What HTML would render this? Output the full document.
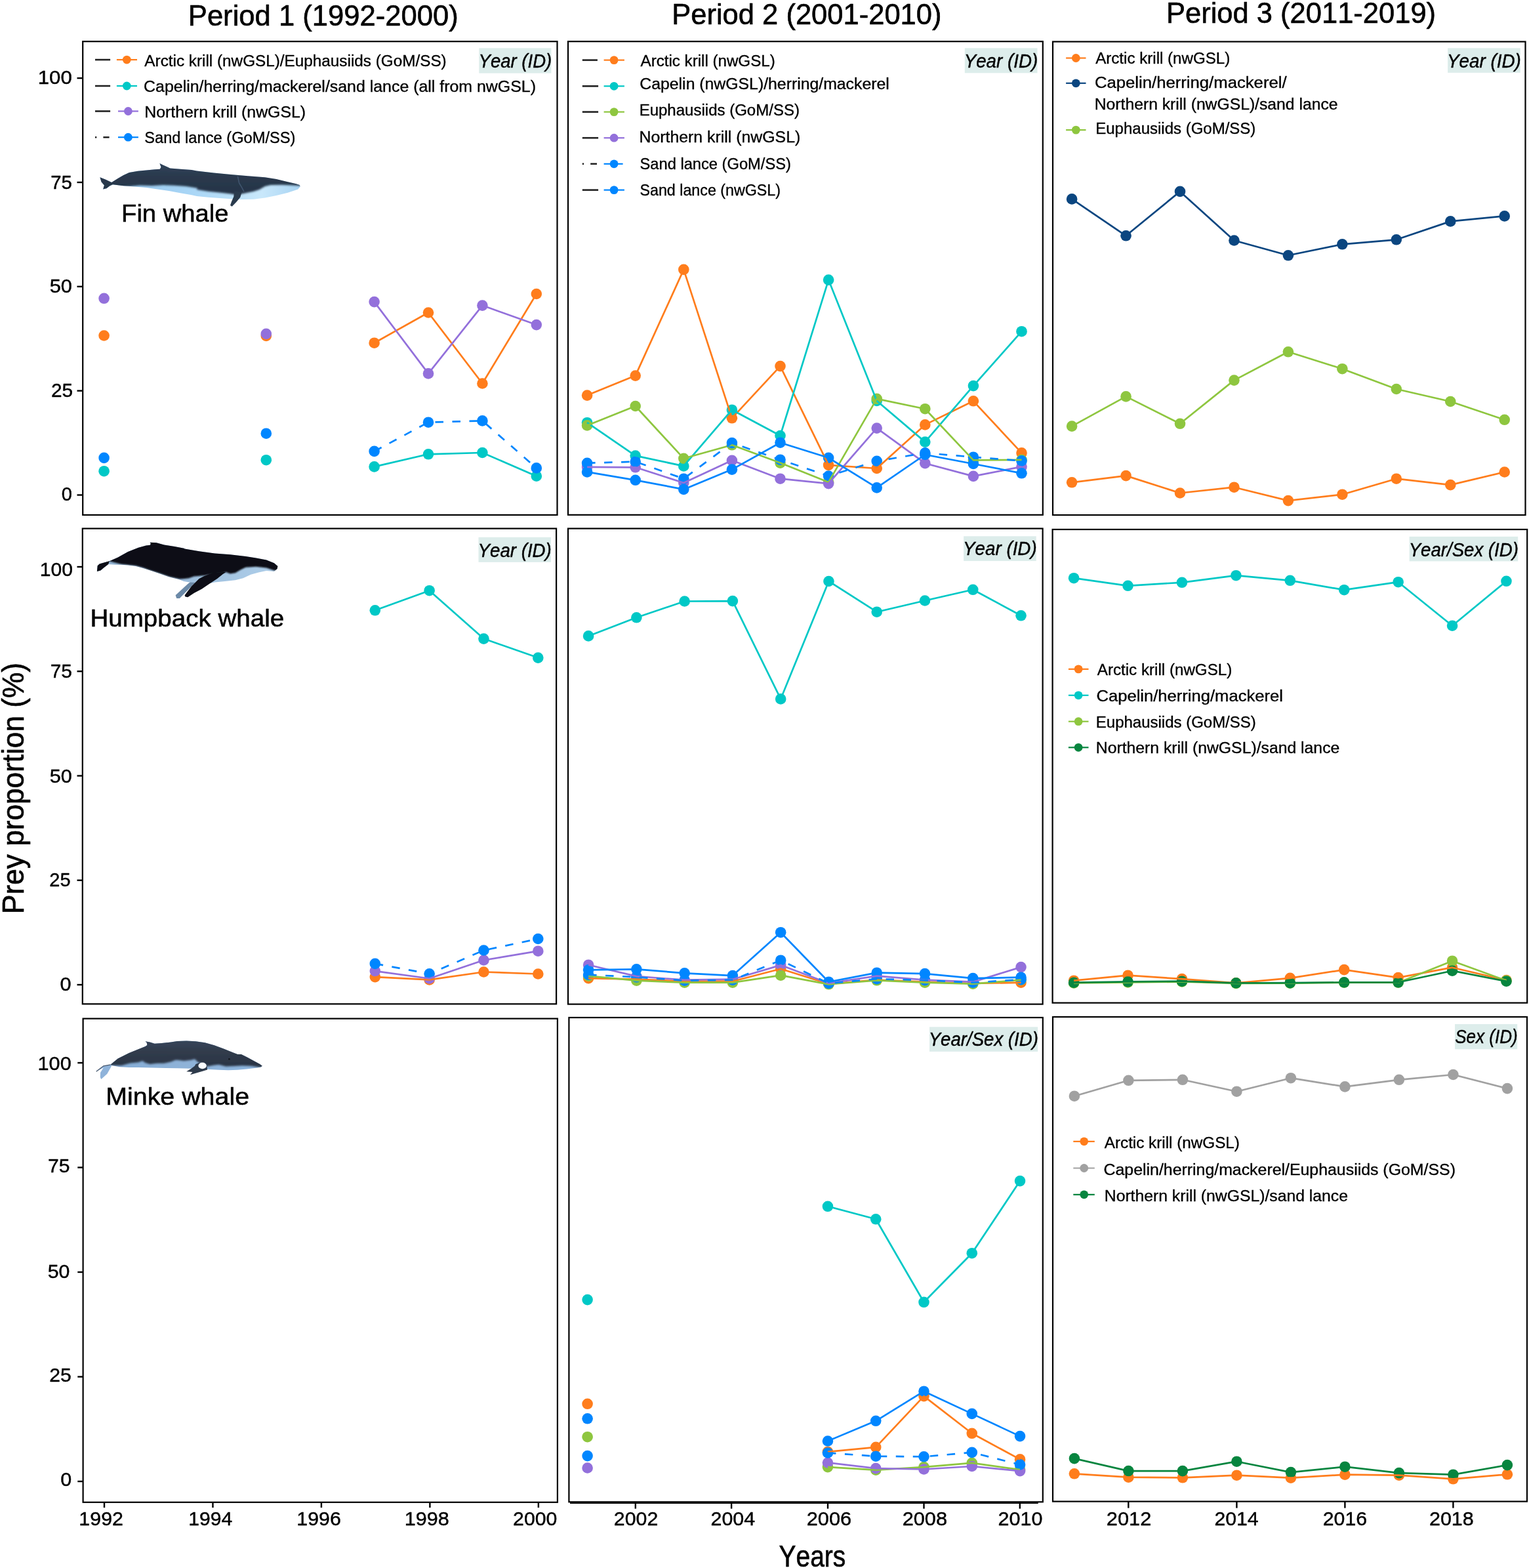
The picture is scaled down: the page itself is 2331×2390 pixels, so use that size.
<!DOCTYPE html>
<html lang="en">
<head>
<meta charset="utf-8">
<title>Prey proportion by period</title>
<style>html,body{margin:0;padding:0;background:#fff}body{width:2331px;height:2390px;overflow:hidden}svg{display:block}</style>
</head>
<body>
<svg width="2331" height="2390" viewBox="0 0 2331 2390" font-family="'Liberation Sans', sans-serif" fill="#000">
<style>text{stroke:#000;stroke-linejoin:round;font-kerning:none}</style>
<rect width="2331" height="2390" fill="#fff"/>
<g>
<g fill="#FF7D1C"><circle cx="158.6" cy="511.5" r="8.3"/><circle cx="405.8" cy="511.9" r="8.3"/><circle cx="570.6" cy="522.7" r="8.3"/><circle cx="653" cy="476.5" r="8.3"/><circle cx="735.4" cy="584.5" r="8.3"/><circle cx="817.8" cy="448" r="8.3"/></g>
<g fill="#00C8C6"><circle cx="158.6" cy="718.2" r="8.3"/><circle cx="405.8" cy="701.2" r="8.3"/><circle cx="570.6" cy="711.4" r="8.3"/><circle cx="653" cy="692.3" r="8.3"/><circle cx="735.4" cy="690" r="8.3"/><circle cx="817.8" cy="725.7" r="8.3"/></g>
<g fill="#9370DB"><circle cx="158.6" cy="454.8" r="8.3"/><circle cx="405.8" cy="508.9" r="8.3"/><circle cx="570.6" cy="460.1" r="8.3"/><circle cx="653" cy="569.4" r="8.3"/><circle cx="735.4" cy="465.6" r="8.3"/><circle cx="817.8" cy="495.1" r="8.3"/></g>
<g fill="#0086FF"><circle cx="158.6" cy="697.9" r="8.3"/><circle cx="405.8" cy="660.7" r="8.3"/><circle cx="570.6" cy="687.9" r="8.3"/><circle cx="653" cy="643.7" r="8.3"/><circle cx="735.4" cy="641.4" r="8.3"/><circle cx="817.8" cy="713.4" r="8.3"/></g>
</g>
<g fill="none" stroke-width="2.7" stroke-linejoin="round">
<path d="M570.6 522.7 L653 476.5 L735.4 584.5 L817.8 448" stroke="#FF7D1C"/>
<path d="M570.6 711.4 L653 692.3 L735.4 690 L817.8 725.7" stroke="#00C8C6"/>
<path d="M570.6 460.1 L653 569.4 L735.4 465.6 L817.8 495.1" stroke="#9370DB"/>
<path d="M570.6 687.9 L653 643.7 L735.4 641.4 L817.8 713.4" stroke="#0086FF" stroke-dasharray="12.5 13.5"/>
</g>
<g>
<g fill="#FF7D1C"><circle cx="895.1" cy="602.6" r="8.3"/><circle cx="968.7" cy="572.6" r="8.3"/><circle cx="1042.3" cy="410.9" r="8.3"/><circle cx="1115.9" cy="637.3" r="8.3"/><circle cx="1189.5" cy="558.1" r="8.3"/><circle cx="1263.1" cy="708.9" r="8.3"/><circle cx="1336.7" cy="714" r="8.3"/><circle cx="1410.3" cy="647.4" r="8.3"/><circle cx="1483.9" cy="611.3" r="8.3"/><circle cx="1557.5" cy="690.4" r="8.3"/></g>
<g fill="#00C8C6"><circle cx="895.1" cy="644.2" r="8.3"/><circle cx="968.7" cy="694.6" r="8.3"/><circle cx="1042.3" cy="710.4" r="8.3"/><circle cx="1115.9" cy="624.7" r="8.3"/><circle cx="1189.5" cy="664" r="8.3"/><circle cx="1263.1" cy="426.6" r="8.3"/><circle cx="1336.7" cy="611" r="8.3"/><circle cx="1410.3" cy="673.6" r="8.3"/><circle cx="1483.9" cy="588.1" r="8.3"/><circle cx="1557.5" cy="505.2" r="8.3"/></g>
<g fill="#8EC63F"><circle cx="895.1" cy="648.4" r="8.3"/><circle cx="968.7" cy="619" r="8.3"/><circle cx="1042.3" cy="698.8" r="8.3"/><circle cx="1115.9" cy="678.3" r="8.3"/><circle cx="1189.5" cy="705.6" r="8.3"/><circle cx="1263.1" cy="735" r="8.3"/><circle cx="1336.7" cy="607.9" r="8.3"/><circle cx="1410.3" cy="623.2" r="8.3"/><circle cx="1483.9" cy="701.4" r="8.3"/><circle cx="1557.5" cy="700.9" r="8.3"/></g>
<g fill="#9370DB"><circle cx="895.1" cy="711.9" r="8.3"/><circle cx="968.7" cy="712.3" r="8.3"/><circle cx="1042.3" cy="736" r="8.3"/><circle cx="1115.9" cy="701.8" r="8.3"/><circle cx="1189.5" cy="729.7" r="8.3"/><circle cx="1263.1" cy="737.1" r="8.3"/><circle cx="1336.7" cy="652.6" r="8.3"/><circle cx="1410.3" cy="706.2" r="8.3"/><circle cx="1483.9" cy="725.9" r="8.3"/><circle cx="1557.5" cy="711.4" r="8.3"/></g>
<g fill="#0086FF"><circle cx="895.1" cy="705.8" r="8.3"/><circle cx="968.7" cy="703.7" r="8.3"/><circle cx="1042.3" cy="729.7" r="8.3"/><circle cx="1115.9" cy="675.1" r="8.3"/><circle cx="1189.5" cy="700.7" r="8.3"/><circle cx="1263.1" cy="725.5" r="8.3"/><circle cx="1336.7" cy="702.8" r="8.3"/><circle cx="1410.3" cy="690.4" r="8.3"/><circle cx="1483.9" cy="696.7" r="8.3"/><circle cx="1557.5" cy="702.4" r="8.3"/></g>
<g fill="#0086FF"><circle cx="895.1" cy="719.4" r="8.3"/><circle cx="968.7" cy="731.8" r="8.3"/><circle cx="1042.3" cy="745.9" r="8.3"/><circle cx="1115.9" cy="715.6" r="8.3"/><circle cx="1189.5" cy="674.7" r="8.3"/><circle cx="1263.1" cy="697.8" r="8.3"/><circle cx="1336.7" cy="743.4" r="8.3"/><circle cx="1410.3" cy="693" r="8.3"/><circle cx="1483.9" cy="707" r="8.3"/><circle cx="1557.5" cy="721.3" r="8.3"/></g>
</g>
<g fill="none" stroke-width="2.7" stroke-linejoin="round">
<path d="M895.1 602.6 L968.7 572.6 L1042.3 410.9 L1115.9 637.3 L1189.5 558.1 L1263.1 708.9 L1336.7 714 L1410.3 647.4 L1483.9 611.3 L1557.5 690.4" stroke="#FF7D1C"/>
<path d="M895.1 644.2 L968.7 694.6 L1042.3 710.4 L1115.9 624.7 L1189.5 664 L1263.1 426.6 L1336.7 611 L1410.3 673.6 L1483.9 588.1 L1557.5 505.2" stroke="#00C8C6"/>
<path d="M895.1 648.4 L968.7 619 L1042.3 698.8 L1115.9 678.3 L1189.5 705.6 L1263.1 735 L1336.7 607.9 L1410.3 623.2 L1483.9 701.4 L1557.5 700.9" stroke="#8EC63F"/>
<path d="M895.1 711.9 L968.7 712.3 L1042.3 736 L1115.9 701.8 L1189.5 729.7 L1263.1 737.1 L1336.7 652.6 L1410.3 706.2 L1483.9 725.9 L1557.5 711.4" stroke="#9370DB"/>
<path d="M895.1 705.8 L968.7 703.7 L1042.3 729.7 L1115.9 675.1 L1189.5 700.7 L1263.1 725.5 L1336.7 702.8 L1410.3 690.4 L1483.9 696.7 L1557.5 702.4" stroke="#0086FF" stroke-dasharray="12.5 13.5"/>
<path d="M895.1 719.4 L968.7 731.8 L1042.3 745.9 L1115.9 715.6 L1189.5 674.7 L1263.1 697.8 L1336.7 743.4 L1410.3 693 L1483.9 707 L1557.5 721.3" stroke="#0086FF"/>
</g>
<g>
<g fill="#FF7D1C"><circle cx="1634.1" cy="735.3" r="8.3"/><circle cx="1716.55" cy="725.1" r="8.3"/><circle cx="1799" cy="751.5" r="8.3"/><circle cx="1881.45" cy="742.7" r="8.3"/><circle cx="1963.9" cy="763.1" r="8.3"/><circle cx="2046.35" cy="753.7" r="8.3"/><circle cx="2128.8" cy="729.7" r="8.3"/><circle cx="2211.25" cy="739.1" r="8.3"/><circle cx="2293.7" cy="719.5" r="8.3"/></g>
<g fill="#0B4680"><circle cx="1634.1" cy="303.4" r="8.3"/><circle cx="1716.55" cy="359.3" r="8.3"/><circle cx="1799" cy="291.9" r="8.3"/><circle cx="1881.45" cy="366.5" r="8.3"/><circle cx="1963.9" cy="389.3" r="8.3"/><circle cx="2046.35" cy="372.3" r="8.3"/><circle cx="2128.8" cy="365.3" r="8.3"/><circle cx="2211.25" cy="337.4" r="8.3"/><circle cx="2293.7" cy="329.4" r="8.3"/></g>
<g fill="#8EC63F"><circle cx="1634.1" cy="649.6" r="8.3"/><circle cx="1716.55" cy="604.4" r="8.3"/><circle cx="1799" cy="645.8" r="8.3"/><circle cx="1881.45" cy="579.6" r="8.3"/><circle cx="1963.9" cy="536.3" r="8.3"/><circle cx="2046.35" cy="562.2" r="8.3"/><circle cx="2128.8" cy="593" r="8.3"/><circle cx="2211.25" cy="612" r="8.3"/><circle cx="2293.7" cy="639.8" r="8.3"/></g>
</g>
<g fill="none" stroke-width="2.7" stroke-linejoin="round">
<path d="M1634.1 735.3 L1716.55 725.1 L1799 751.5 L1881.45 742.7 L1963.9 763.1 L2046.35 753.7 L2128.8 729.7 L2211.25 739.1 L2293.7 719.5" stroke="#FF7D1C"/>
<path d="M1634.1 303.4 L1716.55 359.3 L1799 291.9 L1881.45 366.5 L1963.9 389.3 L2046.35 372.3 L2128.8 365.3 L2211.25 337.4 L2293.7 329.4" stroke="#0B4680"/>
<path d="M1634.1 649.6 L1716.55 604.4 L1799 645.8 L1881.45 579.6 L1963.9 536.3 L2046.35 562.2 L2128.8 593 L2211.25 612 L2293.7 639.8" stroke="#8EC63F"/>
</g>
<g>
<g fill="#FF7D1C"><circle cx="571.8" cy="1489.1" r="8.3"/><circle cx="654.63" cy="1493.4" r="8.3"/><circle cx="737.46" cy="1481.5" r="8.3"/><circle cx="820.29" cy="1484.5" r="8.3"/></g>
<g fill="#00C8C6"><circle cx="571.8" cy="930.3" r="8.3"/><circle cx="654.63" cy="900.2" r="8.3"/><circle cx="737.46" cy="973.6" r="8.3"/><circle cx="820.29" cy="1002.6" r="8.3"/></g>
<g fill="#9370DB"><circle cx="571.8" cy="1480.1" r="8.3"/><circle cx="654.63" cy="1491.5" r="8.3"/><circle cx="737.46" cy="1463.5" r="8.3"/><circle cx="820.29" cy="1449.7" r="8.3"/></g>
<g fill="#0086FF"><circle cx="571.8" cy="1468.9" r="8.3"/><circle cx="654.63" cy="1484.3" r="8.3"/><circle cx="737.46" cy="1448.5" r="8.3"/><circle cx="820.29" cy="1431" r="8.3"/></g>
</g>
<g fill="none" stroke-width="2.7" stroke-linejoin="round">
<path d="M571.8 1489.1 L654.63 1493.4 L737.46 1481.5 L820.29 1484.5" stroke="#FF7D1C"/>
<path d="M571.8 930.3 L654.63 900.2 L737.46 973.6 L820.29 1002.6" stroke="#00C8C6"/>
<path d="M571.8 1480.1 L654.63 1491.5 L737.46 1463.5 L820.29 1449.7" stroke="#9370DB"/>
<path d="M571.8 1468.9 L654.63 1484.3 L737.46 1448.5 L820.29 1431" stroke="#0086FF" stroke-dasharray="12.5 13.5"/>
</g>
<g>
<g fill="#FF7D1C"><circle cx="897.1" cy="1491.1" r="8.3"/><circle cx="970.37" cy="1492.7" r="8.3"/><circle cx="1043.64" cy="1495.7" r="8.3"/><circle cx="1116.91" cy="1495.7" r="8.3"/><circle cx="1190.18" cy="1476.7" r="8.3"/><circle cx="1263.45" cy="1499.7" r="8.3"/><circle cx="1336.72" cy="1493.7" r="8.3"/><circle cx="1409.99" cy="1496.7" r="8.3"/><circle cx="1483.26" cy="1499" r="8.3"/><circle cx="1556.53" cy="1497.7" r="8.3"/></g>
<g fill="#00C8C6"><circle cx="897.1" cy="969.4" r="8.3"/><circle cx="970.37" cy="941.3" r="8.3"/><circle cx="1043.64" cy="916.5" r="8.3"/><circle cx="1116.91" cy="916.1" r="8.3"/><circle cx="1190.18" cy="1065.4" r="8.3"/><circle cx="1263.45" cy="886" r="8.3"/><circle cx="1336.72" cy="932.7" r="8.3"/><circle cx="1409.99" cy="915.5" r="8.3"/><circle cx="1483.26" cy="898.8" r="8.3"/><circle cx="1556.53" cy="938.3" r="8.3"/></g>
<g fill="#8EC63F"><circle cx="897.1" cy="1487.7" r="8.3"/><circle cx="970.37" cy="1494.7" r="8.3"/><circle cx="1043.64" cy="1497.7" r="8.3"/><circle cx="1116.91" cy="1497.7" r="8.3"/><circle cx="1190.18" cy="1486.7" r="8.3"/><circle cx="1263.45" cy="1500.3" r="8.3"/><circle cx="1336.72" cy="1494.3" r="8.3"/><circle cx="1409.99" cy="1497.7" r="8.3"/><circle cx="1483.26" cy="1499.7" r="8.3"/><circle cx="1556.53" cy="1493.7" r="8.3"/></g>
<g fill="#9370DB"><circle cx="897.1" cy="1470.7" r="8.3"/><circle cx="970.37" cy="1488.1" r="8.3"/><circle cx="1043.64" cy="1493.7" r="8.3"/><circle cx="1116.91" cy="1492.7" r="8.3"/><circle cx="1190.18" cy="1471.1" r="8.3"/><circle cx="1263.45" cy="1498.7" r="8.3"/><circle cx="1336.72" cy="1487.7" r="8.3"/><circle cx="1409.99" cy="1493.7" r="8.3"/><circle cx="1483.26" cy="1496.7" r="8.3"/><circle cx="1556.53" cy="1474.1" r="8.3"/></g>
<g fill="#0086FF"><circle cx="897.1" cy="1485.7" r="8.3"/><circle cx="970.37" cy="1489.3" r="8.3"/><circle cx="1043.64" cy="1494.7" r="8.3"/><circle cx="1116.91" cy="1493.7" r="8.3"/><circle cx="1190.18" cy="1463.7" r="8.3"/><circle cx="1263.45" cy="1499" r="8.3"/><circle cx="1336.72" cy="1492.1" r="8.3"/><circle cx="1409.99" cy="1494.1" r="8.3"/><circle cx="1483.26" cy="1497.7" r="8.3"/><circle cx="1556.53" cy="1493.1" r="8.3"/></g>
<g fill="#0086FF"><circle cx="897.1" cy="1478.3" r="8.3"/><circle cx="970.37" cy="1477.3" r="8.3"/><circle cx="1043.64" cy="1483.3" r="8.3"/><circle cx="1116.91" cy="1487.1" r="8.3"/><circle cx="1190.18" cy="1421.2" r="8.3"/><circle cx="1263.45" cy="1496.7" r="8.3"/><circle cx="1336.72" cy="1482.7" r="8.3"/><circle cx="1409.99" cy="1484.1" r="8.3"/><circle cx="1483.26" cy="1491.1" r="8.3"/><circle cx="1556.53" cy="1489.7" r="8.3"/></g>
</g>
<g fill="none" stroke-width="2.7" stroke-linejoin="round">
<path d="M897.1 1491.1 L970.37 1492.7 L1043.64 1495.7 L1116.91 1495.7 L1190.18 1476.7 L1263.45 1499.7 L1336.72 1493.7 L1409.99 1496.7 L1483.26 1499 L1556.53 1497.7" stroke="#FF7D1C"/>
<path d="M897.1 969.4 L970.37 941.3 L1043.64 916.5 L1116.91 916.1 L1190.18 1065.4 L1263.45 886 L1336.72 932.7 L1409.99 915.5 L1483.26 898.8 L1556.53 938.3" stroke="#00C8C6"/>
<path d="M897.1 1487.7 L970.37 1494.7 L1043.64 1497.7 L1116.91 1497.7 L1190.18 1486.7 L1263.45 1500.3 L1336.72 1494.3 L1409.99 1497.7 L1483.26 1499.7 L1556.53 1493.7" stroke="#8EC63F"/>
<path d="M897.1 1470.7 L970.37 1488.1 L1043.64 1493.7 L1116.91 1492.7 L1190.18 1471.1 L1263.45 1498.7 L1336.72 1487.7 L1409.99 1493.7 L1483.26 1496.7 L1556.53 1474.1" stroke="#9370DB"/>
<path d="M897.1 1485.7 L970.37 1489.3 L1043.64 1494.7 L1116.91 1493.7 L1190.18 1463.7 L1263.45 1499 L1336.72 1492.1 L1409.99 1494.1 L1483.26 1497.7 L1556.53 1493.1" stroke="#0086FF" stroke-dasharray="12.5 13.5"/>
<path d="M897.1 1478.3 L970.37 1477.3 L1043.64 1483.3 L1116.91 1487.1 L1190.18 1421.2 L1263.45 1496.7 L1336.72 1482.7 L1409.99 1484.1 L1483.26 1491.1 L1556.53 1489.7" stroke="#0086FF"/>
</g>
<g>
<g fill="#FF7D1C"><circle cx="1637.1" cy="1494.7" r="8.3"/><circle cx="1719.52" cy="1486.7" r="8.3"/><circle cx="1801.94" cy="1492.1" r="8.3"/><circle cx="1884.36" cy="1498.3" r="8.3"/><circle cx="1966.78" cy="1490.9" r="8.3"/><circle cx="2049.2" cy="1478.1" r="8.3"/><circle cx="2131.62" cy="1490.1" r="8.3"/><circle cx="2214.04" cy="1474.7" r="8.3"/><circle cx="2296.46" cy="1494.1" r="8.3"/></g>
<g fill="#00C8C6"><circle cx="1637.1" cy="881.2" r="8.3"/><circle cx="1719.52" cy="892.8" r="8.3"/><circle cx="1801.94" cy="887.8" r="8.3"/><circle cx="1884.36" cy="877.2" r="8.3"/><circle cx="1966.78" cy="884.8" r="8.3"/><circle cx="2049.2" cy="899.2" r="8.3"/><circle cx="2131.62" cy="887.2" r="8.3"/><circle cx="2214.04" cy="953.7" r="8.3"/><circle cx="2296.46" cy="885.8" r="8.3"/></g>
<g fill="#8EC63F"><circle cx="1637.1" cy="1498.5" r="8.3"/><circle cx="1719.52" cy="1497.5" r="8.3"/><circle cx="1801.94" cy="1496.5" r="8.3"/><circle cx="1884.36" cy="1499" r="8.3"/><circle cx="1966.78" cy="1498.7" r="8.3"/><circle cx="2049.2" cy="1497.7" r="8.3"/><circle cx="2131.62" cy="1497.7" r="8.3"/><circle cx="2214.04" cy="1464.7" r="8.3"/><circle cx="2296.46" cy="1494.7" r="8.3"/></g>
<g fill="#07853F"><circle cx="1637.1" cy="1497.7" r="8.3"/><circle cx="1719.52" cy="1496.3" r="8.3"/><circle cx="1801.94" cy="1495.7" r="8.3"/><circle cx="1884.36" cy="1498.3" r="8.3"/><circle cx="1966.78" cy="1498.2" r="8.3"/><circle cx="2049.2" cy="1497.3" r="8.3"/><circle cx="2131.62" cy="1497.3" r="8.3"/><circle cx="2214.04" cy="1479.7" r="8.3"/><circle cx="2296.46" cy="1495.7" r="8.3"/></g>
</g>
<g fill="none" stroke-width="2.7" stroke-linejoin="round">
<path d="M1637.1 1494.7 L1719.52 1486.7 L1801.94 1492.1 L1884.36 1498.3 L1966.78 1490.9 L2049.2 1478.1 L2131.62 1490.1 L2214.04 1474.7 L2296.46 1494.1" stroke="#FF7D1C"/>
<path d="M1637.1 881.2 L1719.52 892.8 L1801.94 887.8 L1884.36 877.2 L1966.78 884.8 L2049.2 899.2 L2131.62 887.2 L2214.04 953.7 L2296.46 885.8" stroke="#00C8C6"/>
<path d="M1637.1 1498.5 L1719.52 1497.5 L1801.94 1496.5 L1884.36 1499 L1966.78 1498.7 L2049.2 1497.7 L2131.62 1497.7 L2214.04 1464.7 L2296.46 1494.7" stroke="#8EC63F"/>
<path d="M1637.1 1497.7 L1719.52 1496.3 L1801.94 1495.7 L1884.36 1498.3 L1966.78 1498.2 L2049.2 1497.3 L2131.62 1497.3 L2214.04 1479.7 L2296.46 1495.7" stroke="#07853F"/>
</g>
<g>
<g fill="#FF7D1C"><circle cx="895.6" cy="2139.8" r="8.3"/><circle cx="1261.95" cy="2212.9" r="8.3"/><circle cx="1335.22" cy="2205.9" r="8.3"/><circle cx="1408.49" cy="2128.1" r="8.3"/><circle cx="1481.76" cy="2184.8" r="8.3"/><circle cx="1555.03" cy="2224.4" r="8.3"/></g>
<g fill="#00C8C6"><circle cx="895.6" cy="1981.1" r="8.3"/><circle cx="1261.95" cy="1838.8" r="8.3"/><circle cx="1335.22" cy="1858.3" r="8.3"/><circle cx="1408.49" cy="1984.8" r="8.3"/><circle cx="1481.76" cy="1910.2" r="8.3"/><circle cx="1555.03" cy="1800.1" r="8.3"/></g>
<g fill="#8EC63F"><circle cx="895.6" cy="2190.2" r="8.3"/><circle cx="1261.95" cy="2236.1" r="8.3"/><circle cx="1335.22" cy="2240.6" r="8.3"/><circle cx="1408.49" cy="2236.1" r="8.3"/><circle cx="1481.76" cy="2229.9" r="8.3"/><circle cx="1555.03" cy="2240.2" r="8.3"/></g>
<g fill="#9370DB"><circle cx="895.6" cy="2237.5" r="8.3"/><circle cx="1261.95" cy="2229.5" r="8.3"/><circle cx="1335.22" cy="2238.1" r="8.3"/><circle cx="1408.49" cy="2239.5" r="8.3"/><circle cx="1481.76" cy="2235" r="8.3"/><circle cx="1555.03" cy="2242.2" r="8.3"/></g>
<g fill="#0086FF"><circle cx="895.6" cy="2219.1" r="8.3"/><circle cx="1261.95" cy="2214.5" r="8.3"/><circle cx="1335.22" cy="2219.7" r="8.3"/><circle cx="1408.49" cy="2220.3" r="8.3"/><circle cx="1481.76" cy="2213.9" r="8.3"/><circle cx="1555.03" cy="2232.4" r="8.3"/></g>
<g fill="#0086FF"><circle cx="895.6" cy="2162.3" r="8.3"/><circle cx="1261.95" cy="2196.5" r="8.3"/><circle cx="1335.22" cy="2165.8" r="8.3"/><circle cx="1408.49" cy="2120.7" r="8.3"/><circle cx="1481.76" cy="2154.9" r="8.3"/><circle cx="1555.03" cy="2189.1" r="8.3"/></g>
</g>
<g fill="none" stroke-width="2.7" stroke-linejoin="round">
<path d="M1261.95 2212.9 L1335.22 2205.9 L1408.49 2128.1 L1481.76 2184.8 L1555.03 2224.4" stroke="#FF7D1C"/>
<path d="M1261.95 1838.8 L1335.22 1858.3 L1408.49 1984.8 L1481.76 1910.2 L1555.03 1800.1" stroke="#00C8C6"/>
<path d="M1261.95 2236.1 L1335.22 2240.6 L1408.49 2236.1 L1481.76 2229.9 L1555.03 2240.2" stroke="#8EC63F"/>
<path d="M1261.95 2229.5 L1335.22 2238.1 L1408.49 2239.5 L1481.76 2235 L1555.03 2242.2" stroke="#9370DB"/>
<path d="M1261.95 2214.5 L1335.22 2219.7 L1408.49 2220.3 L1481.76 2213.9 L1555.03 2232.4" stroke="#0086FF" stroke-dasharray="12.5 13.5"/>
<path d="M1261.95 2196.5 L1335.22 2165.8 L1408.49 2120.7 L1481.76 2154.9 L1555.03 2189.1" stroke="#0086FF"/>
</g>
<g>
<g fill="#FF7D1C"><circle cx="1637.9" cy="2246.3" r="8.3"/><circle cx="1720.4" cy="2251.7" r="8.3"/><circle cx="1802.9" cy="2252.3" r="8.3"/><circle cx="1885.4" cy="2248.7" r="8.3"/><circle cx="1967.9" cy="2252.7" r="8.3"/><circle cx="2050.4" cy="2247.7" r="8.3"/><circle cx="2132.9" cy="2248.7" r="8.3"/><circle cx="2215.4" cy="2254.3" r="8.3"/><circle cx="2297.9" cy="2247.3" r="8.3"/></g>
<g fill="#A1A1A1"><circle cx="1637.9" cy="1670.7" r="8.3"/><circle cx="1720.4" cy="1646.8" r="8.3"/><circle cx="1802.9" cy="1645.8" r="8.3"/><circle cx="1885.4" cy="1663.7" r="8.3"/><circle cx="1967.9" cy="1643.2" r="8.3"/><circle cx="2050.4" cy="1656.4" r="8.3"/><circle cx="2132.9" cy="1645.8" r="8.3"/><circle cx="2215.4" cy="1638" r="8.3"/><circle cx="2297.9" cy="1659.1" r="8.3"/></g>
<g fill="#07853F"><circle cx="1637.9" cy="2223.1" r="8.3"/><circle cx="1720.4" cy="2242.1" r="8.3"/><circle cx="1802.9" cy="2242.1" r="8.3"/><circle cx="1885.4" cy="2227.7" r="8.3"/><circle cx="1967.9" cy="2244.1" r="8.3"/><circle cx="2050.4" cy="2235.7" r="8.3"/><circle cx="2132.9" cy="2245.1" r="8.3"/><circle cx="2215.4" cy="2247.7" r="8.3"/><circle cx="2297.9" cy="2233.1" r="8.3"/></g>
</g>
<g fill="none" stroke-width="2.7" stroke-linejoin="round">
<path d="M1637.9 2246.3 L1720.4 2251.7 L1802.9 2252.3 L1885.4 2248.7 L1967.9 2252.7 L2050.4 2247.7 L2132.9 2248.7 L2215.4 2254.3 L2297.9 2247.3" stroke="#FF7D1C"/>
<path d="M1637.9 1670.7 L1720.4 1646.8 L1802.9 1645.8 L1885.4 1663.7 L1967.9 1643.2 L2050.4 1656.4 L2132.9 1645.8 L2215.4 1638 L2297.9 1659.1" stroke="#A1A1A1"/>
<path d="M1637.9 2223.1 L1720.4 2242.1 L1802.9 2242.1 L1885.4 2227.7 L1967.9 2244.1 L2050.4 2235.7 L2132.9 2245.1 L2215.4 2247.7 L2297.9 2233.1" stroke="#07853F"/>
</g>
<g fill="none" stroke="#000" stroke-width="2.2">
<rect x="126.2" y="63.2" width="723.3" height="721.7"/>
<rect x="866" y="63.2" width="723.8" height="721.6"/>
<rect x="1605" y="63.5" width="720.5" height="721.5"/>
<rect x="125.8" y="805.6" width="722.3" height="724.7"/>
<rect x="866" y="805.6" width="723.6" height="725"/>
<rect x="1604.6" y="807" width="723.6" height="721.6"/>
<rect x="126.6" y="1552.6" width="723.3" height="737.2"/>
<rect x="867.4" y="1551" width="722.4" height="738.3"/>
<rect x="1605" y="1550" width="723" height="738.6"/>
</g>
<path d="M869 2290.8H1582.7" stroke="#000" stroke-width="2.6" fill="none"/>
<g stroke="#000" stroke-width="2.4">
<line x1="117.5" y1="754.5" x2="126.2" y2="754.5"/>
<line x1="117.5" y1="595.65" x2="126.2" y2="595.65"/>
<line x1="117.5" y1="436.8" x2="126.2" y2="436.8"/>
<line x1="117.5" y1="277.95" x2="126.2" y2="277.95"/>
<line x1="117.5" y1="119.1" x2="126.2" y2="119.1"/>
<line x1="117.5" y1="1501" x2="126.2" y2="1501"/>
<line x1="117.5" y1="1341.75" x2="126.2" y2="1341.75"/>
<line x1="117.5" y1="1182.5" x2="126.2" y2="1182.5"/>
<line x1="117.5" y1="1023.25" x2="126.2" y2="1023.25"/>
<line x1="117.5" y1="864" x2="126.2" y2="864"/>
<line x1="118.3" y1="2258" x2="126.3" y2="2258"/>
<line x1="118.3" y1="2098.5" x2="126.3" y2="2098.5"/>
<line x1="118.3" y1="1939" x2="126.3" y2="1939"/>
<line x1="118.3" y1="1779.5" x2="126.3" y2="1779.5"/>
<line x1="118.3" y1="1620" x2="126.3" y2="1620"/>
<line x1="159" y1="2289.8" x2="159" y2="2298"/>
<line x1="324.46" y1="2289.8" x2="324.46" y2="2298"/>
<line x1="489.92" y1="2289.8" x2="489.92" y2="2298"/>
<line x1="655.38" y1="2289.8" x2="655.38" y2="2298"/>
<line x1="820.84" y1="2289.8" x2="820.84" y2="2298"/>
<line x1="968.8" y1="2290.5" x2="968.8" y2="2299.6"/>
<line x1="1115.1" y1="2290.5" x2="1115.1" y2="2299.6"/>
<line x1="1262" y1="2290.5" x2="1262" y2="2299.6"/>
<line x1="1408.5" y1="2290.5" x2="1408.5" y2="2299.6"/>
<line x1="1554.8" y1="2290.5" x2="1554.8" y2="2299.6"/>
<line x1="1720.3" y1="2288.6" x2="1720.3" y2="2298.6"/>
<line x1="1885.4" y1="2288.6" x2="1885.4" y2="2298.6"/>
<line x1="2050.4" y1="2288.6" x2="2050.4" y2="2298.6"/>
<line x1="2215.4" y1="2288.6" x2="2215.4" y2="2298.6"/>
</g>
<text x="286.82" y="39.3" font-size="44.6" stroke-width="0.62" textLength="411.88" lengthAdjust="spacingAndGlyphs">Period 1 (1992-2000)</text>
<text x="1024.23" y="36.7" font-size="44.6" stroke-width="0.62" textLength="411.27" lengthAdjust="spacingAndGlyphs">Period 2 (2001-2010)</text>
<text x="1778.03" y="35.2" font-size="44.6" stroke-width="0.62" textLength="411.07" lengthAdjust="spacingAndGlyphs">Period 3 (2011-2019)</text>
<text x="1187.54" y="2387.6" font-size="45.6" stroke-width="0.64" textLength="101.66" lengthAdjust="spacingAndGlyphs">Years</text>
<text x="185.07" y="338.3" font-size="36.8" stroke-width="0.52" textLength="163.43" lengthAdjust="spacingAndGlyphs">Fin whale</text>
<text x="137.44" y="955" font-size="36.8" stroke-width="0.52" textLength="295.78" lengthAdjust="spacingAndGlyphs">Humpback whale</text>
<text x="161.27" y="1684.4" font-size="36.8" stroke-width="0.52" textLength="218.78" lengthAdjust="spacingAndGlyphs">Minke whale</text>
<text x="120.38" y="2324.8" font-size="29.8" stroke-width="0.42" textLength="67.65" lengthAdjust="spacingAndGlyphs">1992</text>
<text x="287.31" y="2324.8" font-size="29.8" stroke-width="0.42" textLength="66.98" lengthAdjust="spacingAndGlyphs">1994</text>
<text x="452.39" y="2324.8" font-size="29.8" stroke-width="0.42" textLength="67.44" lengthAdjust="spacingAndGlyphs">1996</text>
<text x="616.87" y="2324.8" font-size="29.8" stroke-width="0.42" textLength="67.95" lengthAdjust="spacingAndGlyphs">1998</text>
<text x="782.08" y="2324.8" font-size="29.8" stroke-width="0.42" textLength="67.3" lengthAdjust="spacingAndGlyphs">2000</text>
<text x="935.88" y="2324.7" font-size="29.8" stroke-width="0.42" textLength="67.35" lengthAdjust="spacingAndGlyphs">2002</text>
<text x="1083.57" y="2324.7" font-size="29.8" stroke-width="0.42" textLength="67.62" lengthAdjust="spacingAndGlyphs">2004</text>
<text x="1229.75" y="2324.7" font-size="29.8" stroke-width="0.42" textLength="68.4" lengthAdjust="spacingAndGlyphs">2006</text>
<text x="1375.65" y="2324.7" font-size="29.8" stroke-width="0.42" textLength="68.38" lengthAdjust="spacingAndGlyphs">2008</text>
<text x="1521.56" y="2324.7" font-size="29.8" stroke-width="0.42" textLength="67.93" lengthAdjust="spacingAndGlyphs">2010</text>
<text x="1686.85" y="2325.1" font-size="29.8" stroke-width="0.42" textLength="68.39" lengthAdjust="spacingAndGlyphs">2012</text>
<text x="1851.48" y="2325.1" font-size="29.8" stroke-width="0.42" textLength="67.2" lengthAdjust="spacingAndGlyphs">2014</text>
<text x="2016.78" y="2325.1" font-size="29.8" stroke-width="0.42" textLength="67.25" lengthAdjust="spacingAndGlyphs">2016</text>
<text x="2178.97" y="2325.1" font-size="29.8" stroke-width="0.42" textLength="67.76" lengthAdjust="spacingAndGlyphs">2018</text>
<text x="57.72" y="128" font-size="29.8" stroke-width="0.42" textLength="52.1" lengthAdjust="spacingAndGlyphs">100</text>
<text x="77.2" y="288" font-size="29.8" stroke-width="0.42" textLength="32.64" lengthAdjust="spacingAndGlyphs">75</text>
<text x="75.77" y="446.3" font-size="29.8" stroke-width="0.42" textLength="34.23" lengthAdjust="spacingAndGlyphs">50</text>
<text x="78" y="604.6" font-size="29.8" stroke-width="0.42" textLength="33.15" lengthAdjust="spacingAndGlyphs">25</text>
<text x="93.66" y="763.3" font-size="29.8" stroke-width="0.42" textLength="16.17" lengthAdjust="spacingAndGlyphs">0</text>
<text x="60.8" y="877.6" font-size="29.8" stroke-width="0.42" textLength="50.27" lengthAdjust="spacingAndGlyphs">100</text>
<text x="76.77" y="1033.1" font-size="29.8" stroke-width="0.42" textLength="33.18" lengthAdjust="spacingAndGlyphs">75</text>
<text x="75.78" y="1193.1" font-size="29.8" stroke-width="0.42" textLength="34.02" lengthAdjust="spacingAndGlyphs">50</text>
<text x="75.35" y="1351.4" font-size="29.8" stroke-width="0.42" textLength="32.17" lengthAdjust="spacingAndGlyphs">25</text>
<text x="91.6" y="1509.8" font-size="29.8" stroke-width="0.42" textLength="17.1" lengthAdjust="spacingAndGlyphs">0</text>
<text x="57.57" y="1631" font-size="29.8" stroke-width="0.42" textLength="51.13" lengthAdjust="spacingAndGlyphs">100</text>
<text x="73.06" y="1786.7" font-size="29.8" stroke-width="0.42" textLength="33.4" lengthAdjust="spacingAndGlyphs">75</text>
<text x="72.69" y="1948.2" font-size="29.8" stroke-width="0.42" textLength="33.7" lengthAdjust="spacingAndGlyphs">50</text>
<text x="75.29" y="2106.1" font-size="29.8" stroke-width="0.42" textLength="33.48" lengthAdjust="spacingAndGlyphs">25</text>
<text x="92.21" y="2264.8" font-size="29.8" stroke-width="0.42" textLength="16.99" lengthAdjust="spacingAndGlyphs">0</text>
<rect x="730.3" y="73.3" width="110.1" height="38.3" fill="#DDEDEB"/>
<text x="729.54" y="103.2" font-size="29.8" font-style="italic" stroke-width="0.42" textLength="111.7" lengthAdjust="spacingAndGlyphs">Year (ID)</text>
<rect x="1470.8" y="73.3" width="110.7" height="38" fill="#DDEDEB"/>
<text x="1469.72" y="102.5" font-size="29.8" font-style="italic" stroke-width="0.42" textLength="112.43" lengthAdjust="spacingAndGlyphs">Year (ID)</text>
<rect x="2207.1" y="73.3" width="110.7" height="37.6" fill="#DDEDEB"/>
<text x="2206.01" y="102.5" font-size="29.8" font-style="italic" stroke-width="0.42" textLength="112.85" lengthAdjust="spacingAndGlyphs">Year (ID)</text>
<rect x="729.5" y="818.9" width="110.4" height="38" fill="#DDEDEB"/>
<text x="728.52" y="849.1" font-size="29.8" font-style="italic" stroke-width="0.42" textLength="112.33" lengthAdjust="spacingAndGlyphs">Year (ID)</text>
<rect x="1469.1" y="817.3" width="110.6" height="37.8" fill="#DDEDEB"/>
<text x="1468.11" y="846.3" font-size="29.8" font-style="italic" stroke-width="0.42" textLength="112.54" lengthAdjust="spacingAndGlyphs">Year (ID)</text>
<rect x="2148.6" y="817.9" width="165.6" height="37.6" fill="#DDEDEB"/>
<text x="2147.73" y="847.9" font-size="29.8" font-style="italic" stroke-width="0.42" textLength="167.11" lengthAdjust="spacingAndGlyphs">Year/Sex (ID)</text>
<rect x="1417" y="1565.3" width="165.2" height="37.6" fill="#DDEDEB"/>
<text x="1415.73" y="1593.9" font-size="29.8" font-style="italic" stroke-width="0.42" textLength="167.11" lengthAdjust="spacingAndGlyphs">Year/Sex (ID)</text>
<rect x="2218" y="1561" width="95.2" height="38.3" fill="#DDEDEB"/>
<text x="2218.26" y="1589.9" font-size="29.8" font-style="italic" stroke-width="0.42" textLength="95.49" lengthAdjust="spacingAndGlyphs">Sex (ID)</text>
<path d="M145 91.05H168.1" stroke="#222" stroke-width="2.6" fill="none"/>
<path d="M177.9 91.05H209" stroke="#FF7D1C" stroke-width="2.2" fill="none"/>
<circle cx="193.3" cy="91.05" r="6.4" fill="#FF7D1C"/>
<text x="220.35" y="100.9" font-size="24.7" stroke-width="0.35" textLength="460.35" lengthAdjust="spacingAndGlyphs">Arctic krill (nwGSL)/Euphausiids (GoM/SS)</text>
<path d="M145 131H168.1" stroke="#222" stroke-width="2.6" fill="none"/>
<path d="M177.9 131H209" stroke="#00C8C6" stroke-width="2.2" fill="none"/>
<circle cx="193.3" cy="131" r="6.4" fill="#00C8C6"/>
<text x="219.14" y="140.2" font-size="24.7" stroke-width="0.35" textLength="597.81" lengthAdjust="spacingAndGlyphs">Capelin/herring/mackerel/sand lance (all from nwGSL)</text>
<path d="M145 169.5H168.1" stroke="#222" stroke-width="2.6" fill="none"/>
<path d="M180 169.5H210.9" stroke="#9370DB" stroke-width="2.2" fill="none"/>
<circle cx="195.4" cy="169.5" r="6.4" fill="#9370DB"/>
<text x="220.26" y="178.7" font-size="24.7" stroke-width="0.35" textLength="245.88" lengthAdjust="spacingAndGlyphs">Northern krill (nwGSL)</text>
<path d="M145 209.2h2.3M157.4 209.2H166.6" stroke="#222" stroke-width="2.6" fill="none"/>
<path d="M180 209.2H210.9" stroke="#0086FF" stroke-width="2.2" fill="none"/>
<circle cx="195.4" cy="209.2" r="6.4" fill="#0086FF"/>
<text x="220.23" y="218" font-size="24.7" stroke-width="0.35" textLength="230.24" lengthAdjust="spacingAndGlyphs">Sand lance (GoM/SS)</text>
<path d="M887.8 91.6H910.9" stroke="#222" stroke-width="2.6" fill="none"/>
<path d="M920.6 91.6H951.9" stroke="#FF7D1C" stroke-width="2.2" fill="none"/>
<circle cx="936.1" cy="91.6" r="6.4" fill="#FF7D1C"/>
<text x="976.55" y="100.9" font-size="24.7" stroke-width="0.35" textLength="205.14" lengthAdjust="spacingAndGlyphs">Arctic krill (nwGSL)</text>
<path d="M887.8 131.3H912.1" stroke="#222" stroke-width="2.6" fill="none"/>
<path d="M920.6 131.3H951.9" stroke="#00C8C6" stroke-width="2.2" fill="none"/>
<circle cx="936.1" cy="131.3" r="6.4" fill="#00C8C6"/>
<text x="975.34" y="136.2" font-size="24.7" stroke-width="0.35" textLength="380.42" lengthAdjust="spacingAndGlyphs">Capelin (nwGSL)/herring/mackerel</text>
<path d="M887.8 170.6H912.1" stroke="#222" stroke-width="2.6" fill="none"/>
<path d="M920.6 170.6H951.9" stroke="#8EC63F" stroke-width="2.2" fill="none"/>
<circle cx="936.1" cy="170.6" r="6.4" fill="#8EC63F"/>
<text x="974.63" y="176.1" font-size="24.7" stroke-width="0.35" textLength="244.36" lengthAdjust="spacingAndGlyphs">Euphausiids (GoM/SS)</text>
<path d="M887.8 210.2H912.1" stroke="#222" stroke-width="2.6" fill="none"/>
<path d="M920.6 210.2H951.9" stroke="#9370DB" stroke-width="2.2" fill="none"/>
<circle cx="936.1" cy="210.2" r="6.4" fill="#9370DB"/>
<text x="974.56" y="216.9" font-size="24.7" stroke-width="0.35" textLength="245.68" lengthAdjust="spacingAndGlyphs">Northern krill (nwGSL)</text>
<path d="M887.8 249.8h2.3M900.2 249.8H910" stroke="#222" stroke-width="2.6" fill="none"/>
<path d="M920.6 249.8H949.6" stroke="#0086FF" stroke-width="2.2" fill="none"/>
<circle cx="936.1" cy="249.8" r="6.4" fill="#0086FF"/>
<text x="975.52" y="257.8" font-size="24.7" stroke-width="0.35" textLength="230.34" lengthAdjust="spacingAndGlyphs">Sand lance (GoM/SS)</text>
<path d="M887.8 289.6H912.1" stroke="#222" stroke-width="2.6" fill="none"/>
<path d="M920.6 289.6H951.9" stroke="#0086FF" stroke-width="2.2" fill="none"/>
<circle cx="936.1" cy="289.6" r="6.4" fill="#0086FF"/>
<text x="975.54" y="297.5" font-size="24.7" stroke-width="0.35" textLength="214.4" lengthAdjust="spacingAndGlyphs">Sand lance (nwGSL)</text>
<path d="M1625.1 88.5H1655.5" stroke="#FF7D1C" stroke-width="2.2" fill="none"/>
<circle cx="1640.3" cy="88.5" r="6.4" fill="#FF7D1C"/>
<text x="1670.15" y="97.3" font-size="24.7" stroke-width="0.35" textLength="205.14" lengthAdjust="spacingAndGlyphs">Arctic krill (nwGSL)</text>
<path d="M1625.1 126.8H1655.5" stroke="#0B4680" stroke-width="2.2" fill="none"/>
<circle cx="1640.3" cy="126.8" r="6.4" fill="#0B4680"/>
<text x="1668.9" y="133.8" font-size="24.7" stroke-width="0.35" textLength="292.7" lengthAdjust="spacingAndGlyphs">Capelin/herring/mackerel/</text>
<text x="1668.77" y="166.7" font-size="24.7" stroke-width="0.35" textLength="370.72" lengthAdjust="spacingAndGlyphs">Northern krill (nwGSL)/sand lance</text>
<path d="M1625.1 198.1H1655.5" stroke="#8EC63F" stroke-width="2.2" fill="none"/>
<circle cx="1640.3" cy="198.1" r="6.4" fill="#8EC63F"/>
<text x="1670.23" y="204.1" font-size="24.7" stroke-width="0.35" textLength="244.16" lengthAdjust="spacingAndGlyphs">Euphausiids (GoM/SS)</text>
<path d="M1628.9 1019.9H1659.5" stroke="#FF7D1C" stroke-width="2.2" fill="none"/>
<circle cx="1644.1" cy="1019.9" r="6.4" fill="#FF7D1C"/>
<text x="1672.75" y="1028.9" font-size="24.7" stroke-width="0.35" textLength="205.55" lengthAdjust="spacingAndGlyphs">Arctic krill (nwGSL)</text>
<path d="M1628.9 1059.8H1659.5" stroke="#00C8C6" stroke-width="2.2" fill="none"/>
<circle cx="1644.1" cy="1059.8" r="6.4" fill="#00C8C6"/>
<text x="1671.5" y="1068.8" font-size="24.7" stroke-width="0.35" textLength="284.41" lengthAdjust="spacingAndGlyphs">Capelin/herring/mackerel</text>
<path d="M1628.9 1099.7H1659.5" stroke="#8EC63F" stroke-width="2.2" fill="none"/>
<circle cx="1644.1" cy="1099.7" r="6.4" fill="#8EC63F"/>
<text x="1670.83" y="1108.7" font-size="24.7" stroke-width="0.35" textLength="243.95" lengthAdjust="spacingAndGlyphs">Euphausiids (GoM/SS)</text>
<path d="M1628.9 1139.3H1659.5" stroke="#07853F" stroke-width="2.2" fill="none"/>
<circle cx="1644.1" cy="1139.3" r="6.4" fill="#07853F"/>
<text x="1670.77" y="1148.3" font-size="24.7" stroke-width="0.35" textLength="371.53" lengthAdjust="spacingAndGlyphs">Northern krill (nwGSL)/sand lance</text>
<path d="M1636.3 1739.8H1668.8" stroke="#FF7D1C" stroke-width="2.2" fill="none"/>
<circle cx="1652.7" cy="1739.8" r="6.4" fill="#FF7D1C"/>
<text x="1683.75" y="1750" font-size="24.7" stroke-width="0.35" textLength="206.15" lengthAdjust="spacingAndGlyphs">Arctic krill (nwGSL)</text>
<path d="M1636.3 1780.5H1668.8" stroke="#A1A1A1" stroke-width="2.2" fill="none"/>
<circle cx="1652.7" cy="1780.5" r="6.4" fill="#A1A1A1"/>
<text x="1682.54" y="1790.5" font-size="24.7" stroke-width="0.35" textLength="536.41" lengthAdjust="spacingAndGlyphs">Capelin/herring/mackerel/Euphausiids (GoM/SS)</text>
<path d="M1636.3 1820.8H1668.8" stroke="#07853F" stroke-width="2.2" fill="none"/>
<circle cx="1652.7" cy="1820.8" r="6.4" fill="#07853F"/>
<text x="1683.77" y="1830.8" font-size="24.7" stroke-width="0.35" textLength="371.13" lengthAdjust="spacingAndGlyphs">Northern krill (nwGSL)/sand lance</text>
<text transform="translate(36.4,1392.92) rotate(-90)" font-size="45.8" stroke-width="0.64" textLength="382.86" lengthAdjust="spacingAndGlyphs">Prey proportion (%)</text>
<defs><filter id="b1" x="-5%" y="-20%" width="110%" height="140%"><feGaussianBlur stdDeviation="0.55"/></filter><filter id="b3" x="-10%" y="-40%" width="120%" height="180%"><feGaussianBlur stdDeviation="1"/></filter><filter id="b2" x="-10%" y="-40%" width="120%" height="180%"><feGaussianBlur stdDeviation="1.6"/></filter><linearGradient id="gf" x1="0" y1="0" x2="1" y2="0"><stop offset="0" stop-color="#8FC0E8"/><stop offset="0.45" stop-color="#A9D6F6"/><stop offset="0.8" stop-color="#C9E8FB"/><stop offset="1" stop-color="#A5D2F2"/></linearGradient><linearGradient id="gd" x1="0" y1="0" x2="0" y2="1"><stop offset="0" stop-color="#33475E"/><stop offset="0.5" stop-color="#2A394D"/><stop offset="1" stop-color="#253447"/></linearGradient><linearGradient id="gm" x1="0" y1="0" x2="0" y2="1"><stop offset="0" stop-color="#3A4A62"/><stop offset="0.45" stop-color="#313C4D"/><stop offset="1" stop-color="#2A3443"/></linearGradient><linearGradient id="gmb" x1="0" y1="0" x2="1" y2="0"><stop offset="0" stop-color="#84ACD6"/><stop offset="0.5" stop-color="#8FB3D8"/><stop offset="1" stop-color="#8DB6E0"/></linearGradient><linearGradient id="gh" x1="0" y1="0" x2="1" y2="0"><stop offset="0" stop-color="#93B4D3"/><stop offset="0.5" stop-color="#9DBEDD"/><stop offset="1" stop-color="#AFCFEA"/></linearGradient></defs><g filter="url(#b1)"><clipPath id="cf"><path d="M152.4 270.3 L160.6 273.4 L170.1 278.1 L179.7 272.1 L188.3 266.9 L197.0 263.0 L210.0 260.8 L223.0 259.5 L236.0 258.2 L243.8 257.8 L245.5 254.7 L243.4 249.1 L249.0 251.7 L259.4 256.5 L275.0 257.8 L292.3 259.1 L300.0 260.4 L326.0 263.4 L352.0 266.0 L378.0 268.2 L404.0 270.3 L421.3 272.9 L438.7 277.3 L451.7 280.3 L456.9 282.0 L457.7 284.2 L454.3 288.5 L438.7 293.7 L421.3 298.1 L404.0 301.5 L386.7 303.7 L369.3 304.1 L352.0 303.3 L334.7 302.0 L317.3 300.7 L300.0 298.9 L292.3 297.2 L275.0 294.2 L257.7 291.1 L240.3 288.5 L223.0 285.9 L205.7 284.6 L188.3 283.3 L171.9 281.2 L167.5 283.3 L162.3 287.2 L157.1 288.5 L158.9 282.5 L154.5 277.3Z"/></clipPath><g clip-path="url(#cf)"><rect x="150" y="245" width="312" height="62" fill="url(#gf)"/><path d="M150.0 240.0 L462.0 240.0 L462.0 283.3 L458.6 283.3 L447.3 282.6 L430.0 281.8 L412.7 281.9 L404.0 284.0 L395.3 289.1 L386.7 291.7 L368.5 295.5 L360.7 297.2 L352.0 295.5 L334.7 293.4 L317.3 291.7 L300.0 289.1 L301.0 286.8 L283.7 283.9 L266.3 282.8 L249.0 282.1 L231.7 283.0 L212.6 282.5 L193.5 284.4 L150.0 290.4Z" fill="url(#gd)" filter="url(#b2)"/><path d="M362.4 268.6 L364.6 279.0 L369.3 286.8 L371.9 292.0" fill="none" stroke="#4A627E" stroke-width="1.6" opacity="0.7"/></g><path d="M357.2 291.1 L368.5 292.9 L366.3 300.7 L360.7 307.6 L353.7 314.7 L351.0 313.0 L352.9 307.6 L356.3 299.8Z" fill="#2A3A4E"/></g><g filter="url(#b1)"><path d="M290.2 887.1 L285.8 890.6 L267.6 907.2 L269.2 911.9 L273.9 912.1 L280.2 905.6 L287.9 897.7 L295.8 889.8 L298.9 887.1Z" fill="#6C8AA8"/><clipPath id="ch"><path d="M148.7 862.3 L151.8 859.5 L166.8 855.2 L179.4 849.7 L195.1 841.0 L210.9 834.7 L222.7 831.5 L229.0 830.8 L229.8 828.4 L228.6 826.7 L238.5 827.2 L250.3 830.4 L266.1 833.1 L281.8 835.9 L280.0 836.3 L303.6 840.2 L327.3 843.4 L350.9 845.3 L374.5 848.1 L390.3 850.5 L406.1 853.6 L417.9 858.3 L423.4 863.1 L422.6 867.0 L417.9 870.9 L406.1 870.1 L394.2 872.5 L382.4 875.7 L370.6 881.2 L358.8 884.3 L343.0 885.9 L327.3 887.5 L321.0 889.1 L303.6 888.3 L288.7 887.5 L280.0 885.9 L273.9 883.5 L258.2 879.6 L242.4 874.1 L230.6 870.1 L218.8 866.2 L207.0 863.1 L195.1 861.5 L184.1 860.7 L175.5 860.7 L165.2 859.9 L158.1 865.4 L153.4 869.4 L147.9 870.9 L148.3 866.2Z"/></clipPath><g clip-path="url(#ch)"><rect x="140" y="820" width="290" height="80" fill="url(#gh)"/><path d="M140.0 815.0 L430.0 815.0 L430.0 870.1 L424.2 870.1 L417.9 869.4 L406.1 865.4 L390.3 863.8 L374.5 864.8 L366.7 868.6 L358.8 873.3 L350.9 874.5 L344.6 871.9 L339.9 873.5 L324.1 875.3 L311.5 877.2 L295.8 878.4 L287.9 881.2 L281.8 882.0 L273.9 882.4 L258.2 879.0 L242.4 873.5 L226.7 868.6 L218.8 865.4 L207.0 862.3 L184.1 859.7 L171.5 856.4 L166.8 855.3 L140.0 862.0 L140.0 815.0Z" fill="#0C0F14" filter="url(#b3)"/></g><path d="M148.7 862.3 L151.8 859.5 L166.8 855.2 L165.2 859.9 L158.1 865.4 L153.4 869.4 L147.9 870.9 L148.3 866.2Z" fill="#0C0F14"/><path d="M324.1 873.3 L344.6 871.7 L339.9 874.9 L331.2 882.0 L319.4 889.8 L307.6 897.7 L295.8 904.0 L286.3 910.3 L282.4 909.5 L281.6 907.2 L291.8 893.8 L303.6 882.0 L311.5 878.0Z" fill="#0C0F14"/></g><g filter="url(#b1)"><path d="M146.7 1633.3 L157.7 1624.8 L168.4 1622.7 L170.5 1624.1 L163.4 1636.8 L154.2 1645.0 L152.8 1641.8 L153.1 1634.7 L157.7 1627.6Z" fill="#8FB3DA"/><path d="M146.7 1633.3 L157.7 1624.8 L168.4 1622.8" fill="none" stroke="#4A5A70" stroke-width="1.3"/><clipPath id="cm"><path d="M168.4 1622.7 L179.7 1613.5 L196.7 1604.9 L210.9 1599.3 L221.5 1595.0 L224.4 1592.9 L223.7 1589.3 L221.5 1587.2 L228.6 1588.6 L235.7 1590.8 L246.4 1590.1 L260.5 1588.6 L270.0 1586.9 L284.2 1586.5 L298.4 1587.2 L312.5 1589.3 L326.7 1593.2 L340.9 1598.6 L355.1 1604.2 L362.2 1607.1 L367.8 1607.1 L376.4 1611.3 L387.0 1617.0 L396.2 1622.0 L399.8 1624.8 L397.6 1626.6 L392.0 1627.6 L376.4 1629.4 L362.2 1630.8 L348.0 1631.2 L333.8 1630.8 L319.6 1630.1 L291.3 1628.7 L270.0 1628.3 L253.4 1628.0 L232.2 1627.6 L210.9 1626.9 L196.7 1626.9 L182.5 1626.2 L170.5 1624.1Z"/></clipPath><g clip-path="url(#cm)"><rect x="165" y="1583" width="240" height="52" fill="url(#gmb)"/><path d="M140.0 1578.0 L405.0 1578.0 L405.0 1627.3 L400.5 1627.3 L394.1 1626.4 L383.4 1624.8 L369.3 1624.2 L355.1 1624.9 L344.4 1625.4 L333.8 1622.8 L326.7 1623.4 L316.1 1625.6 L306.9 1621.4 L301.2 1618.6 L296.9 1614.3 L291.3 1615.7 L280.6 1617.1 L270.0 1615.7 L267.6 1615.7 L260.5 1618.6 L249.9 1620.7 L239.3 1620.7 L228.6 1622.1 L221.5 1620.0 L217.3 1617.1 L210.9 1619.3 L198.1 1620.5 L185.4 1623.9 L179.7 1624.1 L165.0 1624.0 L140.0 1624.0Z" fill="url(#gm)" filter="url(#b2)"/></g><path d="M298.4 1622.0 L304.0 1619.8 L315.4 1624.1 L316.1 1630.5 L309.7 1632.6 L301.9 1634.7 L289.9 1638.3 L293.4 1634.0 L284.2 1633.3 L291.3 1629.0 L296.9 1624.8Z" fill="#2F3B4C"/><ellipse cx="308.6" cy="1624.4" rx="6.2" ry="4.9" fill="#FAFCFD"/><circle cx="349.4" cy="1614.2" r="1.3" fill="#10151C"/></g>
</svg>
</body>
</html>
